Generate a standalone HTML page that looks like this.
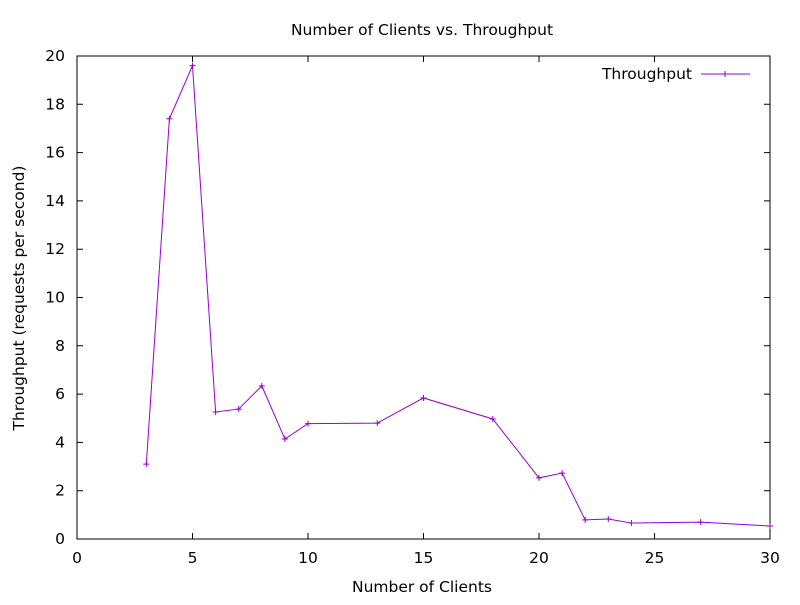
<!DOCTYPE html>
<html><head><meta charset="utf-8"><style>
body{margin:0;background:#fff}
text{font-family:"DejaVu Sans","Liberation Sans",sans-serif;font-size:15.5px;fill:#000}
</style></head><body>
<svg id="c" width="800" height="600" xmlns="http://www.w3.org/2000/svg">
<rect width="800" height="600" fill="#fff"/>
<text x="422" y="35" text-anchor="middle">Number of Clients vs. Throughput</text>
<text x="422" y="592" text-anchor="middle">Number of Clients</text>
<text transform="translate(24,298) rotate(-90)" text-anchor="middle">Throughput (requests per second)</text>
<g id="axes"></g>
<rect x="77" y="56" width="693" height="483" fill="none" stroke="#000" stroke-width="1"/>
<text x="692" y="79" text-anchor="end">Throughput</text>
<line x1="701" y1="74" x2="750" y2="74" stroke="#9400d3"/>
<path d="M725,71v6M722,74h6" stroke="#9400d3"/>
<g id="series"></g>
</svg>
<script>
const clients=[3,4,5,6,7,8,9,10,13,15,18,20,21,22,23,24,27,30];
const throughput=[3.1,17.4,19.6,5.26,5.38,6.34,4.14,4.78,4.8,5.84,4.97,2.53,2.73,0.79,0.83,0.66,0.70,0.54];
const xTicks=[0,5,10,15,20,25,30];
const yTicks=[0,2,4,6,8,10,12,14,16,18,20];
const NS="http://www.w3.org/2000/svg";
const X0=77,X1=770,Y0=539,Y1=56;
const xs=v=>X0+(v-0)/30*(X1-X0);
const ys=v=>Y0-(v-0)/20*(Y0-Y1);
function mk(t,a,p){const e=document.createElementNS(NS,t);for(const k in a)e.setAttribute(k,a[k]);p.appendChild(e);return e;}
const ax=document.getElementById('axes');
xTicks.forEach(v=>{const x=xs(v);
 const l=mk('path',{d:`M${x},${Y0}v-6M${x},${Y1}v6`,stroke:'#000'},ax);
 
 
 const t=mk('text',{x:x,y:Y0+24,'text-anchor':'middle'},ax);t.textContent=v;
 
 
});
yTicks.forEach(v=>{const y=ys(v);
 const l=mk('path',{d:`M${X0},${y}h6M${X1},${y}h-6`,stroke:'#000'},ax);
 
 
 const t=mk('text',{x:X0-12,y:y+5,'text-anchor':'end'},ax);t.textContent=v;
 
 
});
const s=document.getElementById('series');
const pts=clients.map((c,i)=>xs(c)+','+ys(throughput[i])).join(' ');
const pl=mk('polyline',{points:pts,fill:'none',stroke:'#9400d3','stroke-width':1},s);


clients.forEach((c,i)=>{const x=xs(c),y=ys(throughput[i]);
 const m=mk('path',{d:`M${x-3},${y}h6M${x},${y-3}v6`,stroke:'#9400d3'},s);
 
 
});
</script>
</body></html>
